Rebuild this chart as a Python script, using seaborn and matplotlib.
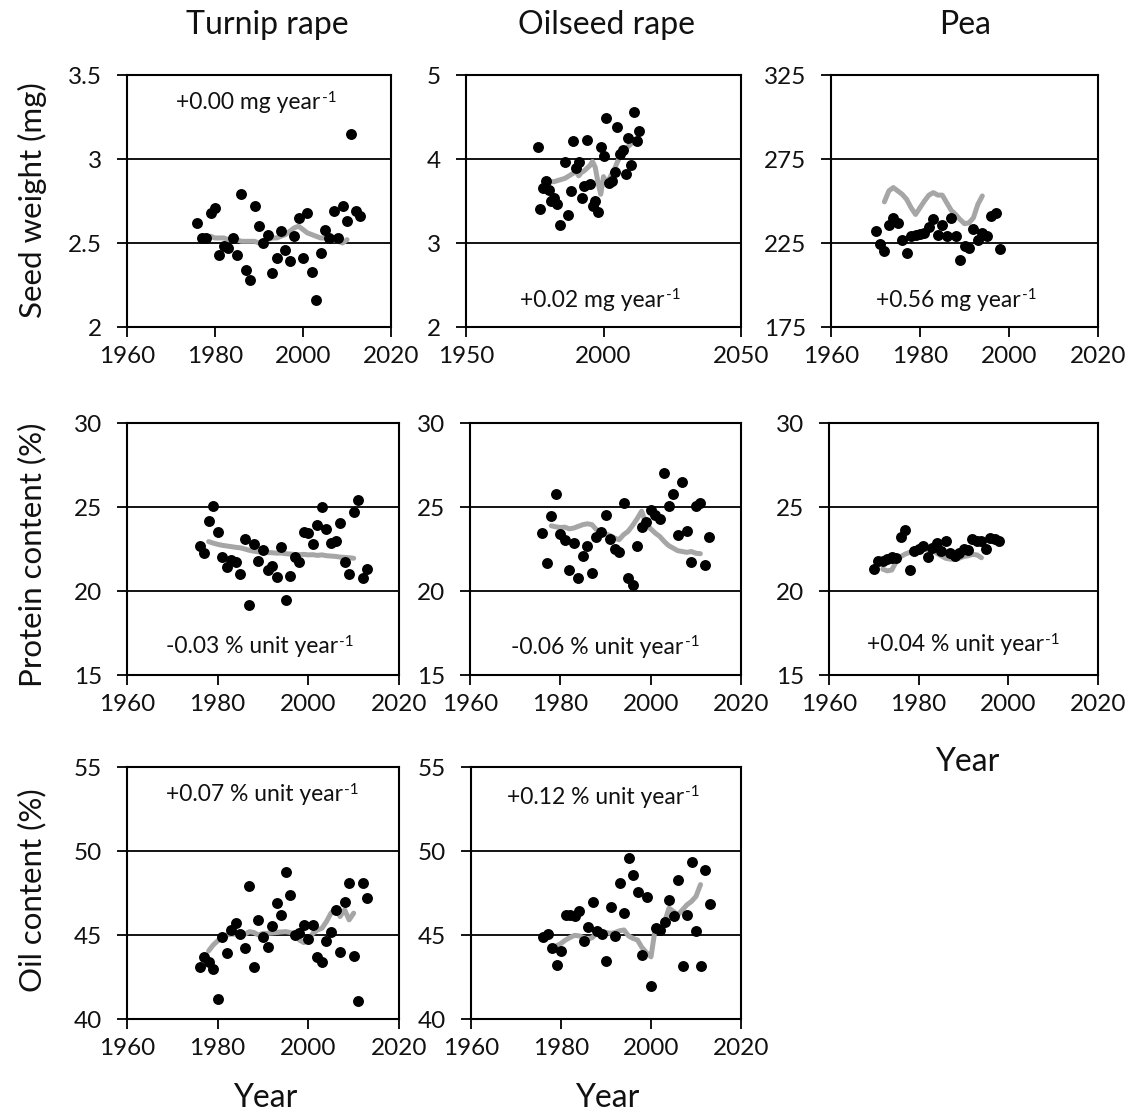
"""Seed weight, protein and oil content of turnip rape, oilseed rape and pea over time."""

import matplotlib
matplotlib.use("Agg")
import matplotlib.pyplot as plt
import matplotlib.ticker as mticker
import seaborn as sns

sns.set_theme(style="white")
plt.rcParams["font.family"] = ["Lato", "DejaVu Sans"]

# ---------------------------------------------------------------------------
# Data
# ---------------------------------------------------------------------------

years_76_13 = list(range(1976, 2014))

tr_seed = [2.62, 2.53, 2.53, 2.68, 2.71, 2.43, 2.48, 2.47, 2.53, 2.43,
           2.79, 2.34, 2.28, 2.72, 2.60, 2.50, 2.55, 2.32, 2.41, 2.57,
           2.46, 2.39, 2.54, 2.65, 2.41, 2.68, 2.33, 2.16, 2.44, 2.58,
           2.53, 2.69, 2.53, 2.72, 2.63, 3.15, 2.69, 2.66]
tr_seed_trend_years = list(range(1979, 2011))
tr_seed_trend = [2.54, 2.53, 2.53, 2.53, 2.52, 2.52, 2.52, 2.51, 2.51, 2.51,
                 2.51, 2.50, 2.51, 2.52, 2.53, 2.53, 2.54, 2.55, 2.57, 2.59,
                 2.60, 2.58, 2.56, 2.55, 2.54, 2.53, 2.53, 2.52, 2.52, 2.51,
                 2.50, 2.52]

or_seed_years = [1976, 1977, 1978, 1979, 1980, 1981, 1982, 1983, 1984, 1986,
                 1987, 1988, 1989, 1990, 1991, 1992, 1993, 1994, 1995, 1996,
                 1997, 1998, 1999, 2000, 2001, 2002, 2003, 2004, 2005, 2006,
                 2007, 2008, 2009, 2010, 2011, 2012, 2013]
or_seed = [4.14, 3.41, 3.65, 3.74, 3.63, 3.50, 3.54, 3.46, 3.21, 3.97,
           3.33, 3.62, 4.22, 3.89, 3.97, 3.54, 3.68, 4.23, 3.70, 3.44,
           3.50, 3.37, 4.14, 4.04, 4.49, 3.72, 3.74, 3.84, 4.38, 4.06,
           4.11, 3.82, 4.25, 3.93, 4.56, 4.22, 4.33]
or_seed_trend_years = list(range(1980, 2012))
or_seed_trend = [3.72, 3.73, 3.73, 3.74, 3.75, 3.76, 3.77, 3.79, 3.81, 3.83,
                 3.85, 3.80, 3.84, 3.86, 3.89, 3.92, 3.97, 3.90, 3.72, 3.58,
                 3.79, 3.72, 3.76, 3.82, 3.88, 3.96, 4.03, 4.08, 4.12, 4.15,
                 4.18, 4.21]

pea_seed_years = list(range(1970, 1999))
pea_seed = [232.0, 224.2, 220.0, 235.9, 240.1, 237.1, 227.0, 219.0, 229.2, 229.6,
            230.2, 231.0, 234.5, 239.5, 230.0, 235.5, 229.0, 239.9, 229.2, 214.7,
            223.0, 222.0, 233.5, 226.6, 231.0, 229.2, 241.1, 243.1, 221.2]
pea_seed_trend_years = list(range(1972, 1995))
pea_seed_trend = [249.5, 256.0, 258.0, 256.0, 254.0, 251.0, 246.0, 242.0, 246.0, 250.0,
                  253.5, 255.0, 253.5, 253.5, 249.0, 244.5, 242.0, 239.0, 236.5, 237.0,
                  240.0, 248.0, 253.0]

tr_protein = [22.70, 22.29, 24.17, 25.03, 23.54, 22.01, 21.45, 21.85, 21.73, 20.99,
              23.08, 19.17, 22.80, 21.81, 22.45, 21.27, 21.51, 20.85, 22.64, 19.46,
              20.91, 22.01, 21.71, 23.50, 23.48, 22.80, 23.92, 24.99, 23.72, 22.88,
              22.98, 24.04, 21.75, 20.99, 24.69, 25.41, 20.76, 21.29]
tr_protein_trend_years = list(range(1978, 2011))
tr_protein_trend = [22.94, 22.85, 22.78, 22.72, 22.68, 22.64, 22.60, 22.57, 22.50, 22.42,
                    22.37, 22.33, 22.30, 22.29, 22.28, 22.25, 22.26, 22.22, 22.20, 22.17,
                    22.16, 22.18, 22.15, 22.16, 22.12, 22.15, 22.10, 22.08, 22.06, 22.02,
                    22.00, 21.98, 21.95]

or_protein = [23.47, 21.68, 24.48, 25.80, 23.39, 23.03, 21.25, 22.83, 20.79, 22.10,
              22.67, 21.05, 23.23, 23.52, 24.51, 23.07, 22.50, 22.34, 25.21, 20.79,
              20.36, 22.69, 23.78, 24.12, 24.81, 24.51, 24.30, 27.03, 25.07, 25.80,
              23.33, 26.48, 23.58, 21.74, 25.05, 25.25, 21.54, 23.23]
or_protein_trend_years = list(range(1978, 2012))
or_protein_trend = [23.88, 23.82, 23.78, 23.80, 23.70, 23.75, 23.85, 23.95, 24.00, 23.95,
                    23.65, 23.50, 23.40, 23.30, 23.15, 23.05, 23.35, 23.55, 23.90, 24.30,
                    24.75, 24.00, 23.70, 23.45, 23.25, 22.95, 22.70, 22.55, 22.40, 22.35,
                    22.30, 22.35, 22.25, 22.22]

pea_protein_years = [1970, 1971, 1972, 1973, 1974, 1974, 1975, 1976, 1977, 1978,
                     1979, 1980, 1981, 1982, 1983, 1984, 1985, 1986, 1987, 1988,
                     1989, 1990, 1991, 1992, 1993, 1994, 1995, 1996, 1997, 1998]
pea_protein = [21.29, 21.78, 21.78, 21.88, 21.94, 22.04, 21.98, 23.21, 23.66, 21.25,
               22.38, 22.48, 22.67, 22.02, 22.57, 22.83, 22.38, 22.97, 22.28, 22.08,
               22.28, 22.48, 22.44, 23.07, 22.97, 22.97, 22.48, 23.17, 23.07, 22.97]
pea_protein_trend_years = list(range(1972, 1995))
pea_protein_trend = [21.30, 21.20, 21.25, 21.75, 22.05, 22.20, 22.30, 22.35, 22.45, 22.50,
                     22.48, 22.45, 22.25, 22.10, 21.95, 21.90, 21.88, 21.95, 22.05, 22.10,
                     22.18, 22.15, 21.98]

tr_oil = [43.12, 43.71, 43.42, 42.96, 41.18, 44.90, 43.91, 45.30, 45.69, 45.06,
          44.21, 47.91, 43.08, 45.89, 44.86, 44.27, 45.55, 46.92, 46.19, 48.76,
          47.38, 45.00, 45.10, 45.59, 44.74, 45.59, 43.71, 43.42, 44.64, 45.20,
          46.49, 44.01, 46.98, 48.11, 43.77, 41.10, 48.07, 47.22]
tr_oil_trend_years = list(range(1978, 2011))
tr_oil_trend = [44.05, 44.40, 44.65, 44.90, 45.00, 45.05, 45.05, 45.10, 45.05, 45.20,
                45.15, 45.00, 45.10, 45.10, 45.12, 45.15, 45.18, 45.20, 45.15, 45.05,
                44.70, 44.55, 44.70, 45.10, 45.30, 45.40, 45.80, 46.30, 46.60, 46.10,
                46.50, 45.90, 46.30]

or_oil = [44.88, 45.06, 44.23, 43.19, 44.03, 46.17, 46.21, 46.15, 46.45, 44.62,
          45.48, 46.96, 45.22, 45.08, 43.47, 46.69, 44.92, 48.10, 46.31, 49.56,
          48.57, 47.54, 43.83, 47.24, 41.98, 45.42, 45.32, 45.77, 47.10, 46.11,
          48.25, 43.13, 46.21, 49.33, 45.26, 43.13, 48.89, 46.87]
or_oil_trend_years = list(range(1979, 2012))
or_oil_trend = [44.35, 44.50, 44.70, 44.85, 44.98, 44.95, 44.85, 44.75, 44.85, 45.15,
                45.20, 45.15, 45.10, 45.15, 45.25, 45.30, 44.95, 44.80, 44.70, 44.25,
                43.95, 43.70, 45.50, 45.40, 45.75, 46.60, 46.40, 46.20, 46.50, 46.80,
                47.00, 47.30, 48.00]

crops = ["Turnip rape", "Oilseed rape", "Pea"]
row_labels = ["Seed weight (mg)", "Protein content (%)", "Oil content (%)"]
notes = ["+0.00 mg year", "+0.02 mg year", "+0.56 mg year",
         "-0.03 % unit year", "-0.06 % unit year", "+0.04 % unit year",
         "+0.07 % unit year", "+0.12 % unit year"]

# ---------------------------------------------------------------------------
# Layout
# ---------------------------------------------------------------------------

W, H = 1145, 1120
GRAY = "#a6a6a6"
INK = "#111111"


def px_rect(left, top, right, bottom):
    return [left / W, 1 - bottom / H, (right - left) / W, (bottom - top) / H]


yr_ticks = [1960, 1980, 2000, 2020]
panels = [
    dict(rect=px_rect(127, 75, 391, 327), x=years_76_13, y=tr_seed,
         tx=tr_seed_trend_years, ty=tr_seed_trend, xlim=(1960, 2020), xticks=yr_ticks,
         ylim=(2, 3.5), yticks=[2, 2.5, 3, 3.5], note=notes[0], nxy=(0.49, 0.89)),
    dict(rect=px_rect(466, 75, 741, 327), x=or_seed_years, y=or_seed,
         tx=or_seed_trend_years, ty=or_seed_trend, xlim=(1950, 2050), xticks=[1950, 2000, 2050],
         ylim=(2, 5), yticks=[2, 3, 4, 5], note=notes[1], nxy=(0.49, 0.107)),
    dict(rect=px_rect(831, 75, 1098, 327), x=pea_seed_years, y=pea_seed,
         tx=pea_seed_trend_years, ty=pea_seed_trend, xlim=(1960, 2020), xticks=yr_ticks,
         ylim=(175, 325), yticks=[175, 225, 275, 325], note=notes[2], nxy=(0.47, 0.107)),
    dict(rect=px_rect(127, 423, 399, 675), x=years_76_13, y=tr_protein,
         tx=tr_protein_trend_years, ty=tr_protein_trend, xlim=(1960, 2020), xticks=yr_ticks,
         ylim=(15, 30), yticks=[15, 20, 25, 30], note=notes[3], nxy=(0.49, 0.112)),
    dict(rect=px_rect(470, 423, 741, 675), x=years_76_13, y=or_protein,
         tx=or_protein_trend_years, ty=or_protein_trend, xlim=(1960, 2020), xticks=yr_ticks,
         ylim=(15, 30), yticks=[15, 20, 25, 30], note=notes[4], nxy=(0.50, 0.11)),
    dict(rect=px_rect(829, 423, 1098, 675), x=pea_protein_years, y=pea_protein,
         tx=pea_protein_trend_years, ty=pea_protein_trend, xlim=(1960, 2020), xticks=yr_ticks,
         ylim=(15, 30), yticks=[15, 20, 25, 30], note=notes[5], nxy=(0.50, 0.12)),
    dict(rect=px_rect(127, 767, 399, 1019), x=years_76_13, y=tr_oil,
         tx=tr_oil_trend_years, ty=tr_oil_trend, xlim=(1960, 2020), xticks=yr_ticks,
         ylim=(40, 55), yticks=[40, 45, 50, 55], note=notes[6], nxy=(0.50, 0.89)),
    dict(rect=px_rect(471, 767, 741, 1019), x=years_76_13, y=or_oil,
         tx=or_oil_trend_years, ty=or_oil_trend, xlim=(1960, 2020), xticks=yr_ticks,
         ylim=(40, 55), yticks=[40, 45, 50, 55], note=notes[7], nxy=(0.49, 0.88)),
]

fig = plt.figure(figsize=(W / 100, H / 100), dpi=100)
fig.patch.set_facecolor("white")

for p in panels:
    ax = fig.add_axes(p["rect"])
    sns.lineplot(x=p["tx"], y=p["ty"], ax=ax, color=GRAY, linewidth=3.6, zorder=2)
    sns.scatterplot(x=p["x"], y=p["y"], ax=ax, color="black", s=62, linewidth=0, zorder=3)

    ax.set_xlim(*p["xlim"])
    ax.set_ylim(*p["ylim"])
    ax.set_xticks(p["xticks"])
    ax.set_yticks(p["yticks"])
    ax.yaxis.set_major_formatter(mticker.FormatStrFormatter("%g"))
    ax.tick_params(axis="both", direction="out", length=7, width=1.3, color="black",
                   labelsize=17.5, labelcolor=INK, bottom=True, left=True)
    ax.tick_params(axis="y", pad=11)
    ax.tick_params(axis="x", pad=7)
    ax.yaxis.grid(True, color="black", linewidth=1.3)
    ax.xaxis.grid(False)
    ax.set_axisbelow(True)
    for spine in ax.spines.values():
        spine.set_visible(True)
        spine.set_color("black")
        spine.set_linewidth(1.5)
    ax.set_xlabel("")
    ax.set_ylabel("")

    # slope note with a small "-1" superscript placed right after the text
    t = ax.text(p["nxy"][0] - 0.03, p["nxy"][1], p["note"], transform=ax.transAxes,
                ha="center", va="center", fontsize=16.5, color=INK)
    fig.canvas.draw()
    bb = t.get_window_extent().transformed(ax.transAxes.inverted())
    ax.text(bb.x1 + 0.004, bb.y1 + 0.006, "-1", transform=ax.transAxes,
            ha="left", va="top", fontsize=11, color=INK)

# column titles
for name, cx in zip(crops, [267, 607, 965]):
    fig.text(cx / W, 1 - 25 / H, name, ha="center", va="center", fontsize=23, color=INK)

# row labels
for label, cy in zip(row_labels, [200, 555, 890]):
    fig.text(32 / W, 1 - cy / H, label, ha="center", va="center", rotation=90,
             fontsize=22.5, color=INK)

# x axis titles
for cx, cy in [(265, 1098), (607, 1098), (967, 762)]:
    fig.text(cx / W, 1 - cy / H, "Year", ha="center", va="center", fontsize=23, color=INK)

fig.savefig("out.png", dpi=100, facecolor="white")
